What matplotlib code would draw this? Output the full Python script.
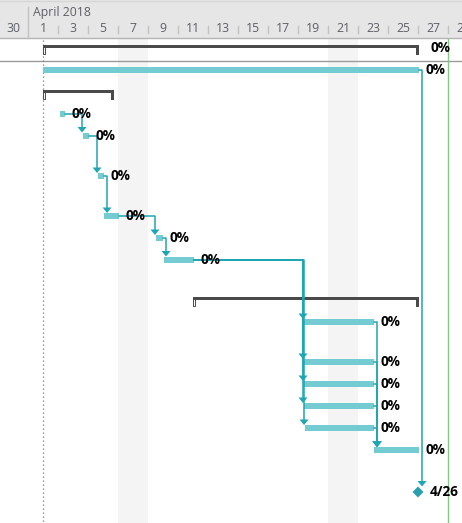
import matplotlib
matplotlib.use('Agg')
import matplotlib.pyplot as plt
from matplotlib.patches import Rectangle, Polygon

# Timeline in "day of April 2018" units (Mar 31 = 0, Mar 30 = -1)
kinds = ['summary', 'task', 'summary', 'task', 'task', 'task', 'task', 'task', 'task',
         'summary', 'task', 'task', 'task', 'task', 'task', 'task', 'milestone']
starts = [2.0, 2.0, 2.0, 3.13, 4.67, 5.67, 6.07, 9.53, 10.07,
          12.0, 19.4, 19.4, 19.4, 19.4, 19.47, 24.07, 27.0]
finishes = [27.07, 27.07, 6.73, 3.47, 5.07, 6.07, 7.07, 10.0, 12.07,
            27.07, 24.07, 24.07, 24.07, 24.07, 24.07, 27.07, 27.0]
labels = ['0%', '0%', '', '0%', '0%', '0%', '0%', '0%', '0%',
          '', '0%', '0%', '0%', '0%', '0%', '0%', '4/26']
# predecessor -> successor (finish-to-start)
links = [(3, 4), (4, 5), (5, 6), (6, 7), (7, 8),
         (8, 10), (8, 11), (8, 12), (8, 13), (8, 14),
         (10, 15), (11, 15), (12, 15), (13, 15), (14, 15), (1, 16)]

month_label = 'April 2018'
tick_days = [-1, 1, 3, 5, 7, 9, 11, 13, 15, 17, 19, 21, 23, 25, 27, 29]
tick_text = ['30', '1', '3', '5', '7', '9', '11', '13', '15', '17', '19', '21',
             '23', '25', '27', '29']
weekends = [7, 21]
project_start = 2.0
today = 29.0

# layout (pixel rows), centres of each row
row_y = [48, 69.5, 93, 113.5, 135.5, 176, 216, 238, 259.5,
         300, 322, 362, 384, 406, 428, 450, 492]

W, H = 462, 523
PX = 1 / 15.0          # one pixel in days
X0 = -13 / 15.0

bar_c = '#74cbd2'
link_c = '#1fa6b4'
sum_c = '#4a4a4a'
hdr_txt = '#5f6068'

fig = plt.figure(figsize=(W / 100, H / 100), dpi=100)
ax = fig.add_axes([0, 0, 1, 1])
ax.set_xlim(X0, X0 + W * PX)
ax.set_ylim(H, 0)
ax.axis('off')

hdr = 38
# header
ax.add_patch(Rectangle((X0, 0), W * PX, hdr, color='#e6e6e6', lw=0, zorder=1))
ax.plot([X0, X0 + W * PX], [1, 1], color='#d6d6d6', lw=1, zorder=2)
ax.plot([X0, X0 + W * PX], [hdr, hdr], color='#b4b4b4', lw=1, zorder=2)
ax.plot([1, 1], [7, hdr], color='#c2c2c2', lw=1, zorder=2)
for d in tick_days[2:]:
    ax.plot([d, d], [26, 33], color='#c2c2c2', lw=1, zorder=2)
ax.text(1 + 5 * PX, 12.5, month_label, ha='left', va='center', fontsize=8.8,
        family='Open Sans', color=hdr_txt, zorder=3)
for d, t in zip(tick_days, tick_text):
    ax.text(d + 1, 28, t, ha='center', va='center', fontsize=8.8,
            family='Open Sans', color=hdr_txt, zorder=3, clip_on=True)

# weekend shading
for d in weekends:
    ax.add_patch(Rectangle((d, hdr + 1), 2, H - hdr, color='#f4f4f4', lw=0, zorder=0))

ax.plot([X0, X0 + W * PX], [61, 61], color='#9a9a9a', lw=1, zorder=2)
ax.plot([project_start, project_start], [hdr + 2, H], color='#7a7a7a', lw=0.9,
        ls=(0, (1, 2.2)), zorder=2)
ax.plot([today, today], [hdr + 1, H], color='#86c686', lw=1, zorder=2)

lab_kw = dict(ha='left', va='center', fontsize=9.8, family='Open Sans',
              weight='bold', color='black', zorder=6)

# bars
for k, s, f, y, lab in zip(kinds, starts, finishes, row_y, labels):
    if k == 'summary':
        top = y - 3
        ax.add_patch(Rectangle((s, top), f - s, 2.5, color=sum_c, lw=0, zorder=4))
        ax.add_patch(Rectangle((f - 3 * PX, top), 3 * PX, 10, color=sum_c, lw=0, zorder=4))
        ax.add_patch(Rectangle((s, top), 2 * PX, 9, fill=False, ec=sum_c, lw=0.7, zorder=4))
        if lab:
            ax.text(f + 11 * PX, y, lab, **lab_kw)
    elif k == 'task':
        ax.add_patch(Rectangle((s, y - 3), f - s, 6, color=bar_c, lw=0, zorder=4))
        ax.text(f + 6 * PX, y, lab, **lab_kw)
    else:
        ax.add_patch(Polygon([(s, y - 5.5), (s + 5.5 * PX, y), (s, y + 5.5), (s - 5.5 * PX, y)],
                             closed=True, color='#2b9fae', lw=0, zorder=4))
        ax.text(s + 12 * PX, y, lab, **lab_kw)

# dependency links
for p, q in links:
    px_ = max(starts[q] - 1 * PX, finishes[p] + 3 * PX)
    tip = row_y[q] - (5.5 if kinds[q] == 'milestone' else 3)
    ax.plot([finishes[p], px_, px_], [row_y[p], row_y[p], tip - 4],
            color=link_c, lw=1.1, solid_joinstyle='round', zorder=5)
    ax.add_patch(Polygon([(px_ - 4.5 * PX, tip - 5.5), (px_ + 4.5 * PX, tip - 5.5), (px_, tip)],
                         closed=True, color=link_c, lw=0, zorder=5))

fig.savefig('out.png', dpi=100)
